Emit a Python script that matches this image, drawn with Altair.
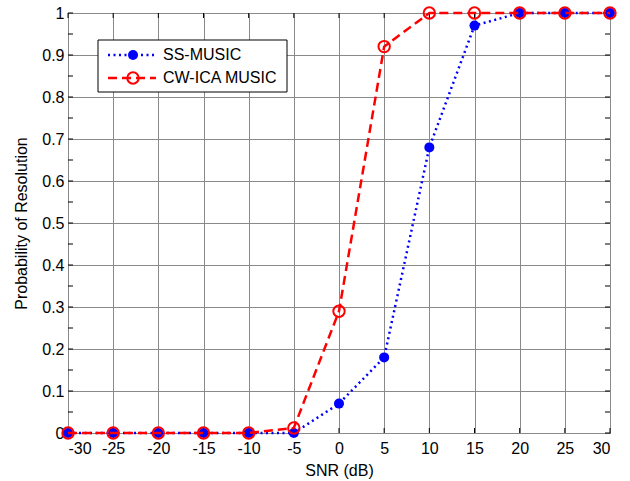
import altair as alt
import pandas as pd

# ---- data ----
snr = [-30, -25, -20, -15, -10, -5, 0, 5, 10, 15, 20, 25, 30]
ss_music = [0, 0, 0, 0, 0, 0, 0.07, 0.18, 0.68, 0.97, 1, 1, 1]
cw_ica = [0, 0, 0, 0, 0, 0.012, 0.29, 0.92, 1, 1, 1, 1, 1]
x_ticks = [-30, -25, -20, -15, -10, -5, 0, 5, 10, 15, 20, 25, 30]
y_ticks = [0, 0.1, 0.2, 0.3, 0.4, 0.5, 0.6, 0.7, 0.8, 0.9, 1]
y_minor = [0, 0.05, 0.1, 0.15, 0.2, 0.25, 0.3, 0.35, 0.4, 0.45, 0.5,
           0.55, 0.6, 0.65, 0.7, 0.75, 0.8, 0.85, 0.9, 0.95, 1]
series_names = ["SS-MUSIC", "CW-ICA MUSIC"]

W, H = 542, 420
FONT = "Liberation Sans"
FS = 16

df_ss = pd.DataFrame({"snr": snr, "p": ss_music})
df_cw = pd.DataFrame({"snr": snr, "p": cw_ica})
df_xt = pd.DataFrame({"snr": x_ticks})
df_yt = pd.DataFrame({"p": y_minor})

xscale = alt.Scale(domain=[-30, 30], nice=False, zero=False)
yscale = alt.Scale(domain=[0, 1], nice=False)

x_axis = alt.Axis(values=x_ticks, grid=True, gridColor="#8a8a8a", gridWidth=1,
                  gridOpacity=1, tickSize=0, labelPadding=7, domain=False,
                  labelFont=FONT, labelFontSize=FS, labelColor="black",
                  labelExpr="'' + datum.value",
                  title="SNR (dB)", titleFont=FONT, titleFontSize=FS,
                  titleFontWeight="normal", titleColor="black", titlePadding=6)
y_axis = alt.Axis(values=y_ticks, grid=True, gridColor="#8a8a8a", gridWidth=1,
                  gridOpacity=1, tickSize=0, labelPadding=4, domain=False,
                  labelFont=FONT, labelFontSize=FS, labelColor="black",
                  labelExpr="'' + datum.value",
                  title="Probability of Resolution", titleFont=FONT, titleFontSize=FS,
                  titleFontWeight="normal", titleColor="black", titlePadding=12)

X = alt.X("snr:Q", scale=xscale, axis=x_axis)
Y = alt.Y("p:Q", scale=yscale, axis=y_axis)

base = alt.Chart(df_ss).mark_point(opacity=0).encode(x=X, y=Y)

# inward ticks
tick_b = alt.Chart(df_xt).mark_rule(color="black", strokeWidth=1).encode(
    x=X, y=alt.value(H), y2=alt.value(H - 5))
tick_t = alt.Chart(df_xt).mark_rule(color="black", strokeWidth=1).encode(
    x=X, y=alt.value(0), y2=alt.value(5))
tick_l = alt.Chart(df_yt).mark_rule(color="black", strokeWidth=1).encode(
    y=Y, x=alt.value(0), x2=alt.value(5))
tick_r = alt.Chart(df_yt).mark_rule(color="black", strokeWidth=1).encode(
    y=Y, x=alt.value(W), x2=alt.value(W - 5))

ss_line = alt.Chart(df_ss).mark_line(color="#0000ff", strokeWidth=2.5,
                                     strokeDash=[2, 3.5], clip=False).encode(x=X, y=Y)
ss_pts = alt.Chart(df_ss).mark_point(shape="circle", filled=True, color="#0000ff",
                                     size=100, opacity=1, clip=False).encode(x=X, y=Y)
cw_line = alt.Chart(df_cw).mark_line(color="#ff0000", strokeWidth=2.5,
                                     strokeDash=[9, 5], clip=False).encode(x=X, y=Y)
cw_pts = alt.Chart(df_cw).mark_point(shape="circle", filled=False, color="#ff0000",
                                     size=130, strokeWidth=2, opacity=1, clip=False).encode(x=X, y=Y)

# legend (drawn manually)
one = alt.Data(values=[{}])
leg_box = alt.Chart(one).mark_rect(fill="white", stroke="black", strokeWidth=1).encode(
    x=alt.value(30), x2=alt.value(219), y=alt.value(27), y2=alt.value(79))
leg_l1 = alt.Chart(one).mark_rule(color="#0000ff", strokeWidth=2.5, strokeDash=[2, 3.5]).encode(
    x=alt.value(40), x2=alt.value(88), y=alt.value(42))
leg_p1 = alt.Chart(one).mark_point(shape="circle", filled=True, color="#0000ff",
                                   size=100, opacity=1).encode(
    x=alt.value(65), y=alt.value(42))
leg_t1 = alt.Chart(one).mark_text(text=series_names[0], align="left", baseline="middle",
                                  font=FONT, fontSize=FS, color="black").encode(
    x=alt.value(95), y=alt.value(42))
leg_l2 = alt.Chart(one).mark_rule(color="#ff0000", strokeWidth=2.5, strokeDash=[9, 5]).encode(
    x=alt.value(40), x2=alt.value(88), y=alt.value(65))
leg_p2 = alt.Chart(one).mark_point(shape="circle", filled=False, color="#ff0000",
                                   size=130, strokeWidth=2, opacity=1).encode(
    x=alt.value(65), y=alt.value(65))
leg_t2 = alt.Chart(one).mark_text(text=series_names[1], align="left", baseline="middle",
                                  font=FONT, fontSize=FS, color="black").encode(
    x=alt.value(95), y=alt.value(65))

chart = alt.layer(
    base, tick_b, tick_t, tick_l, tick_r,
    ss_line, ss_pts, cw_line, cw_pts,
    leg_box, leg_l1, leg_p1, leg_t1, leg_l2, leg_p2, leg_t2,
).properties(
    width=W, height=H,
    autosize="none",
    padding={"left": 68, "top": 13, "right": 20, "bottom": 48},
    background="white",
).configure_view(stroke="black", strokeWidth=1)

chart.save("out.html", embed_options={"renderer": "svg", "actions": False})
